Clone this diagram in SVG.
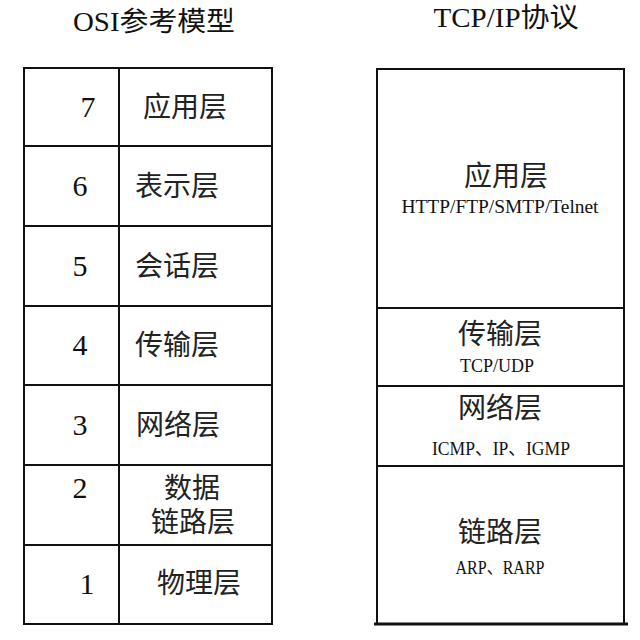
<svg xmlns="http://www.w3.org/2000/svg" width="640" height="640" viewBox="0 0 640 640">
<style>
.b{fill:none;stroke:#111;stroke-width:2}
.t{font-family:"Liberation Serif","Noto Sans CJK SC",serif;fill:#111;dominant-baseline:central;text-anchor:middle}
.cjk{font-family:"Liberation Serif","Noto Sans CJK SC",serif;font-size:28px;fill:#222;dominant-baseline:central;text-anchor:middle}
.num{font-size:30px}
.sm{font-size:19px}
</style>
<rect width="640" height="640" fill="#fff"/>
<text class="t" x="154" y="22" font-size="27" textLength="162" lengthAdjust="spacingAndGlyphs">OSI参考模型</text>
<text class="t" x="506" y="18" font-size="27" textLength="145" lengthAdjust="spacingAndGlyphs">TCP/IP协议</text>

<g id="osi">
<rect class="b" x="24" y="68" width="248" height="556"/>
<line class="b" x1="119" y1="68" x2="119" y2="624"/>
<line class="b" x1="24" y1="146" x2="272" y2="146"/>
<line class="b" x1="24" y1="226" x2="272" y2="226"/>
<line class="b" x1="24" y1="306" x2="272" y2="306"/>
<line class="b" x1="24" y1="385" x2="272" y2="385"/>
<line class="b" x1="24" y1="465" x2="272" y2="465"/>
<line class="b" x1="24" y1="545" x2="272" y2="545"/>
</g>
<g id="osi7"><text class="t num" x="88" y="106">7</text><text class="cjk" x="185" y="107">应用层</text></g>
<g id="osi6"><text class="t num" x="80" y="185">6</text><text class="cjk" x="177" y="186">表示层</text></g>
<g id="osi5"><text class="t num" x="80" y="265">5</text><text class="cjk" x="177" y="266">会话层</text></g>
<g id="osi4"><text class="t num" x="80" y="344">4</text><text class="cjk" x="177" y="345">传输层</text></g>
<g id="osi3"><text class="t num" x="80" y="424">3</text><text class="cjk" x="178" y="425">网络层</text></g>
<g id="osi2"><text class="t num" x="80" y="487">2</text><text class="cjk" x="192" y="488">数据</text><text class="cjk" x="193" y="522">链路层</text></g>
<g id="osi1"><text class="t num" x="87" y="583">1</text><text class="cjk" x="199" y="583">物理层</text></g>

<g id="tcpip">
<rect class="b" x="377" y="69" width="247" height="555"/>
<line class="b" x1="377" y1="308" x2="624" y2="308"/>
<line class="b" x1="377" y1="386" x2="624" y2="386"/>
<line class="b" x1="377" y1="466" x2="624" y2="466"/>
<line x1="374" y1="624" x2="628" y2="624" stroke="#111" stroke-width="3"/>
</g>
<g id="app"><text class="cjk" x="506" y="176" font-size="29">应用层</text><text class="t sm" x="500" y="206" textLength="197" lengthAdjust="spacingAndGlyphs">HTTP/FTP/SMTP/Telnet</text></g>
<g id="transport"><text class="cjk" x="500" y="334" font-size="29">传输层</text><text class="t sm" x="497" y="365" textLength="74" lengthAdjust="spacingAndGlyphs">TCP/UDP</text></g>
<g id="network"><text class="cjk" x="500" y="408" font-size="29">网络层</text><text class="t sm" x="501" y="448" textLength="138" lengthAdjust="spacingAndGlyphs">ICMP、IP、IGMP</text></g>
<g id="link"><text class="cjk" x="500" y="532" font-size="29">链路层</text><text class="t sm" x="500" y="567" textLength="89" lengthAdjust="spacingAndGlyphs">ARP、RARP</text></g>
</svg>
